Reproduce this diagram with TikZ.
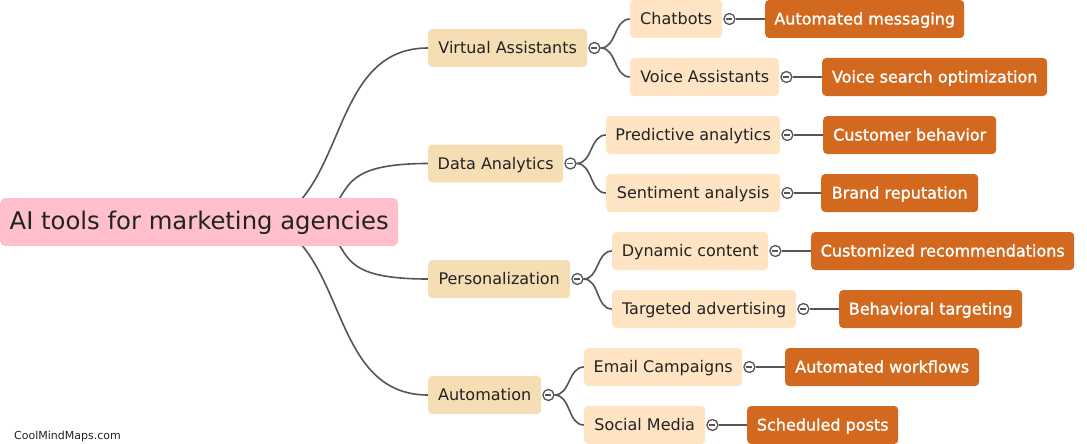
\documentclass[tikz,border=0pt]{standalone}
\usepackage{fontspec}
\setmainfont{DejaVu Sans}
\newfontfamily\boldish[FakeBold=1.5]{DejaVu Sans}
\usetikzlibrary{calc,backgrounds}
\definecolor{rootc}{HTML}{FFC0CB}
\definecolor{wheat}{HTML}{F5DEB3}
\definecolor{bisque}{HTML}{FFE4C4}
\definecolor{choc}{HTML}{D2691E}
\definecolor{linec}{HTML}{555555}
\definecolor{txt}{HTML}{222222}
\tikzset{
  box/.style={anchor=west, rounded corners=4pt, inner xsep=0pt, inner ysep=0pt,
    minimum height=38pt, align=center, text height=13pt, text depth=2pt,
    font=\fontsize{16}{18}\selectfont},
  lone/.style={box, fill=wheat, text=txt},
  ltwo/.style={box, fill=bisque, text=txt},
  lthree/.style={box, fill=choc, text=white, font=\boldish\fontsize{16}{18}\selectfont},
  rootbox/.style={anchor=west, rounded corners=5pt, inner xsep=0pt, inner ysep=0pt,
    minimum height=48pt, fill=rootc, text=txt, text height=18.5pt, text depth=4.5pt,
    font=\fontsize{24.3}{28}\selectfont},
  tog/.style={circle, draw=linec, fill=white, line width=1.3pt, minimum size=11pt, inner sep=0pt,
    path picture={\draw[linec, line width=1.3pt] ([xshift=-3pt]path picture bounding box.center) -- ([xshift=3pt]path picture bounding box.center);}},
  link/.style={draw=linec, line width=1.6pt},
}
\begin{document}
\begin{tikzpicture}[x=1pt,y=-1pt]
\useasboundingbox (0,0) rectangle (1087,444);
% root
\node[rootbox, minimum width=398pt] (root) at (0,222) {AI tools for marketing agencies};
% level 1
\node[lone, minimum width=159pt] (va) at (428,48) {Virtual Assistants};
\node[lone, minimum width=135pt] (da) at (428,163.5) {Data Analytics};
\node[lone, minimum width=142pt] (pe) at (428,279) {Personalization};
\node[lone, minimum width=113pt] (au) at (428,395) {Automation};
% level 2
\node[ltwo, minimum width=92pt]  (ch) at (630,19) {Chatbots};
\node[ltwo, minimum width=149pt] (vo) at (630,77) {Voice Assistants};
\node[ltwo, minimum width=174pt] (pr) at (606,135) {Predictive analytics};
\node[ltwo, minimum width=174pt] (se) at (606,193) {Sentiment analysis};
\node[ltwo, minimum width=156pt] (dy) at (612,251) {Dynamic content};
\node[ltwo, minimum width=184pt] (ta) at (612,309) {Targeted advertising};
\node[ltwo, minimum width=158pt] (em) at (584,367) {Email Campaigns};
\node[ltwo, minimum width=121pt] (so) at (584,425) {Social Media};
% level 3
\node[lthree, minimum width=199pt] (am) at (765,19) {Automated messaging};
\node[lthree, minimum width=225pt] (vs) at (822,77) {Voice search optimization};
\node[lthree, minimum width=173pt] (cb) at (823,135) {Customer behavior};
\node[lthree, minimum width=157pt] (br) at (821,193) {Brand reputation};
\node[lthree, minimum width=263pt] (cr) at (811,251) {Customized recommendations};
\node[lthree, minimum width=183pt] (bt) at (839,309) {Behavioral targeting};
\node[lthree, minimum width=194pt] (aw) at (785,367) {Automated workflows};
\node[lthree, minimum width=151pt] (sp) at (747,425) {Scheduled posts};
% toggles
\foreach \n in {va,da,pe,au,ch,vo,pr,se,dy,ta,em,so}{
  \node[tog] (\n t) at ($(\n.east)+(7,0)$) {};
}
% watermark
\node[anchor=base west, inner sep=0pt, text=txt, font=\fontsize{11}{13}\selectfont] (wm) at (14,439) {CoolMindMaps.com};
% connectors
\begin{scope}[on background layer]
\coordinate (s1) at (300,201);
\coordinate (s2) at (338,201);
\coordinate (s3) at (338,243);
\coordinate (s4) at (300,243);
\draw[link] (s1) .. controls (345,150) and (345,48) .. (va.west);
\draw[link] (s2) .. controls (350,182) and (355,163.5) .. (da.west);
\draw[link] (s3) .. controls (350,262) and (355,279) .. (pe.west);
\draw[link] (s4) .. controls (345,294) and (345,395) .. (au.west);
\draw[link] (vat.east) to[out=0,in=180] (ch.west);
\draw[link] (vat.east) to[out=0,in=180] (vo.west);
\draw[link] (dat.east) to[out=0,in=180] (pr.west);
\draw[link] (dat.east) to[out=0,in=180] (se.west);
\draw[link] (pet.east) to[out=0,in=180] (dy.west);
\draw[link] (pet.east) to[out=0,in=180] (ta.west);
\draw[link] (aut.east) to[out=0,in=180] (em.west);
\draw[link] (aut.east) to[out=0,in=180] (so.west);
\draw[link] (cht) -- (am);
\draw[link] (vot) -- (vs);
\draw[link] (prt) -- (cb);
\draw[link] (set) -- (br);
\draw[link] (dyt) -- (cr);
\draw[link] (tat) -- (bt);
\draw[link] (emt) -- (aw);
\draw[link] (sot) -- (sp);
\end{scope}
\end{tikzpicture}
\end{document}
